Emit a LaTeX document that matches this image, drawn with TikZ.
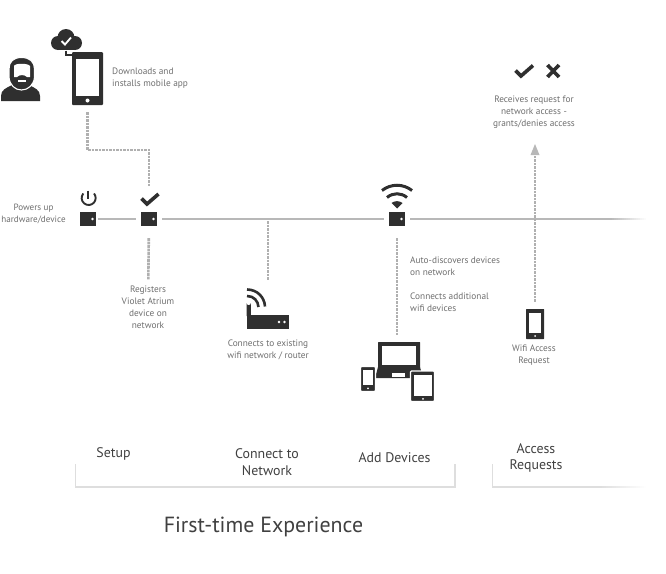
\documentclass[tikz,border=0pt]{standalone}
\usepackage{fontspec}
\setmainfont{PT Sans}
\definecolor{ink}{HTML}{2F2F2F}
\definecolor{txtgray}{HTML}{6E6E6E}
\definecolor{linegray}{HTML}{B8B8B8}
\definecolor{dashgray}{HTML}{B0B0B0}
\definecolor{brk}{HTML}{DEDEDE}
\tikzset{
  x=1pt,y=-1pt,
  dev/.style={rectangle,fill=ink,minimum width=16pt,minimum height=14pt,inner sep=0pt},
  bodybox/.style={rectangle,fill=ink,rounded corners=1pt,inner sep=0pt},
  iconbox/.style={rectangle,inner sep=0pt},
  lbl/.style={text=txtgray,font=\fontsize{9.3}{12}\selectfont,inner sep=0pt,align=center},
  lbll/.style={lbl,align=left,anchor=west},
  headlbl/.style={text=black!75,font=\fontsize{13.9}{16.5}\selectfont,inner sep=0pt,align=center},
  solidline/.style={draw=linegray,line width=2.2pt},
  dashline/.style={draw=dashgray,line width=2.6pt,dash pattern=on 2.6pt off 0.9pt},
  bracketline/.style={draw=brk,line width=1.6pt},
  tickmark/.style={draw=ink,line width=3.6pt,miter limit=10},
}
\begin{document}
\begin{tikzpicture}
\useasboundingbox (0,0) rectangle (666,573);
% person
\fill[ink] (1,101) -- (1,96) .. controls (1,90) and (6,88) .. (12,85) -- (29,85) .. controls (35,88) and (40,90) .. (40,96) -- (40,101) -- cycle;
\filldraw[fill=ink,draw=white,line width=1.1pt] (21.5,57.5) .. controls (13,57.5) and (9,62) .. (9,69) -- (9,77) .. controls (9.5,85) and (15,90) .. (21.5,90) .. controls (28,90) and (34,85) .. (34.5,77) -- (34.5,69) .. controls (34.5,62) and (30,57.5) .. (21.5,57.5) -- cycle;
\fill[white] (14,66) .. controls (15,63) and (28,63) .. (30,66) -- (30,77) -- (27,77) .. controls (25,74.5) and (19,74.5) .. (17,77) -- (14,77) -- cycle;
\fill[white] (18,80) rectangle (26,81.5);
% cloud
\node[iconbox,minimum width=31pt,minimum height=21pt] (cloud) at (66,40) {};
\fill[ink] (66,37.5) circle (8.5);
\fill[ink] (58,43) circle (7);
\fill[ink] (75,43) circle (7);
\fill[ink] (58,40) rectangle (75,50);
\draw[white,line width=1.8pt] (61.5,41) -- (65,44.5) -- (71,37.5);
% big phone
\node[bodybox,minimum width=31pt,minimum height=53pt] (bigphone) at (87.5,78.5) {};
\fill[white] (76,59) rectangle (99,96);
\fill[white] (87.5,100.5) circle (2);
\coordinate (linkbend) at (66,55);
\coordinate (linkend) at (72,55);
\draw[ink,line width=2pt] (cloud.south) -- (linkbend) -- (linkend);
\node[lbll] (tdown) at (112,78.5) {Downloads and\\installs mobile app};
% devices on the bus
\node[dev] (dev1) at (88,219) {};
\node[dev] (dev2) at (149,219) {};
\node[dev] (dev3) at (397,219) {};
\fill[white] (92.5,219) circle (1.4) (153.5,219) circle (1.4) (401.5,219) circle (1.4);
% power icon
\draw[ink,line width=1.9pt] (83.3,193.5) arc[start angle=220,end angle=-40,radius=7];
\draw[ink,line width=1.9pt] (88,190.5) -- (88,199);
% check over dev2
\node[iconbox,minimum width=20pt,minimum height=14pt] (ok1) at (149,199) {};
\draw[tickmark] (141.5,198.5) -- (147,204) -- (158.5,194);
% wifi
\node[iconbox,minimum width=32pt,minimum height=24pt] (wifi) at (397,196) {};
\draw[ink,line width=3pt] (382,190.5) .. controls (391,183.5) and (403,183.5) .. (412,190.5);
\draw[ink,line width=3pt] (387,197.5) .. controls (393,192.5) and (401,192.5) .. (407,197.5);
\fill[ink] (391.5,203) .. controls (395,200.5) and (399,200.5) .. (402.5,203) -- (397,208.5) -- cycle;
% bus
\coordinate (fadestart) at (610,219);
\coordinate (bustap) at (268,219);
\draw[solidline,shorten <=2pt,shorten >=5pt] (dev1) -- (dev2);
\draw[solidline,shorten <=5pt,shorten >=5pt] (dev2) -- (dev3);
\draw[solidline,shorten <=5pt] (dev3) -- (fadestart);
\foreach \i in {0,...,17}{
  \pgfmathtruncatemacro{\pct}{100-\i*100/18}
  \draw[line width=2.2pt,draw=linegray!\pct!white] ([xshift=\i*2pt]fadestart) -- ([xshift=\i*2pt+2.2pt]fadestart);
}
\node[lbl,font=\fontsize{9.1}{12}\selectfont] (tpow) at (33.5,213.5) {Powers up\\hardware/device};
% registers
\node[lbl] (treg) at (148,307.5) {Registers\\Violet Atrium\\device on\\network};
\draw[dashline,shorten <=12pt,shorten >=6pt] (dev2) -- (treg);
% phone to check
\coordinate (bend1) at (149,150);
\draw[dashline,shorten <=7pt,shorten >=5pt] (bigphone.south) |- (bend1) -- (ok1.north);
% router
\node[bodybox,rounded corners=0pt,minimum width=42pt,minimum height=14pt] (router) at (267.5,321.5) {};
\fill[ink] (246.5,316) -- (246.5,303) arc[start angle=180,end angle=0,radius=2.2] -- (251,316) -- cycle;
\draw[ink,line width=2.6pt] (247,296) .. controls (254,296) and (258,301) .. (258.5,307);
\draw[ink,line width=2.6pt] (247,289.5) .. controls (257,289.5) and (264.5,297) .. (265,306.5);
\fill[white] (279,322) circle (1.4) (284.5,322) circle (1.4);
\node[iconbox,minimum width=42pt,minimum height=6pt] (antenna) at (268,289) {};
\draw[dashline,shorten <=2pt,shorten >=6pt] (bustap) -- (antenna.north);
\node[lbl] (trouter) at (268,349.5) {Connects to existing\\wifi network / router};
% devices group
\node[iconbox,minimum width=48pt,minimum height=10pt] (laptop) at (397,347) {};
\fill[ink,rounded corners=0.5pt] (378,342) rectangle (420,368);
\fill[white] (382,346) rectangle (416,365);
\fill[ink] (378,367) -- (420,367) -- (423,378) -- (375,378) -- cycle;
\fill[white] (392,373) rectangle (405,376.5);
\filldraw[fill=ink,draw=white,line width=1.2pt,rounded corners=1pt] (360.5,366.5) rectangle (375.5,391.5);
\fill[white] (363,370) rectangle (373,385);
\fill[white] (368,388.3) circle (1);
\filldraw[fill=ink,draw=white,line width=1.2pt,rounded corners=1pt] (410.5,371) rectangle (434.5,401.5);
\fill[white] (414,374.5) rectangle (432,396);
\fill[white] (423,398.8) circle (1);
\draw[dashline,shorten <=12pt,shorten >=7pt] (dev3) -- (laptop.north);
\node[lbll] (tauto) at (410,266.5) {Auto-discovers devices\\on network};
\node[lbll] (tconn) at (410,302) {Connects additional\\wifi devices};
% access
\node[bodybox,rounded corners=0.5pt,minimum width=18pt,minimum height=30pt] (smallphone) at (535,324) {};
\fill[white] (529,312.5) rectangle (541,333);
\fill[white] (535,336) circle (1);
\node[lbl] (treq) at (534,355.5) {Wifi Access\\Request};
\node[lbl] (trecv) at (534,112.5) {Receives request for\\network access -\\grants/denies access};
\coordinate (arrowtip) at (535,144);
\coordinate (arrowbase) at (535,155);
\draw[dashline,shorten <=7pt] (smallphone.north) -- (arrowbase);
\fill[linegray] (arrowtip) -- ([xshift=4.5pt]arrowbase) -- ([xshift=-4.5pt]arrowbase) -- cycle;
% check and cross
\draw[tickmark] (515.5,70.5) -- (521,76) -- (533,65.5);
\draw[ink,line width=3.6pt] (547.5,65) -- (559,77) (559,65) -- (547.5,77);
% section labels
\node[headlbl] (hsetup) at (113.5,454) {Setup};
\node[headlbl] (hconn) at (267,462) {Connect to\\Network};
\node[headlbl] (hadd) at (394.5,458) {Add Devices};
\node[headlbl] (hacc) at (536,458) {Access\\Requests};
% brackets
\coordinate (b1a) at (75.5,464);
\coordinate (b1b) at (455,464);
\coordinate (b1c) at (75.5,487);
\coordinate (b1d) at (455,487);
\coordinate (b2a) at (492.5,464);
\coordinate (b2b) at (492.5,487);
\coordinate (b2c) at (600,487);
\draw[bracketline] (b1a) -- (b1c) -- (b1d) -- (b1b);
\draw[bracketline] (b2a) -- (b2b) -- (b2c);
\foreach \i in {0,...,22}{
  \pgfmathtruncatemacro{\pct}{100-\i*100/23}
  \draw[line width=1.6pt,draw=brk!\pct!white] ([xshift=\i*2pt]b2c) -- ([xshift=\i*2pt+2.2pt]b2c);
}
\node[text=black!75,font=\fontsize{21.9}{24}\selectfont,inner sep=0pt] (title) at (263.5,527) {First-time Experience};
\end{tikzpicture}
\end{document}
